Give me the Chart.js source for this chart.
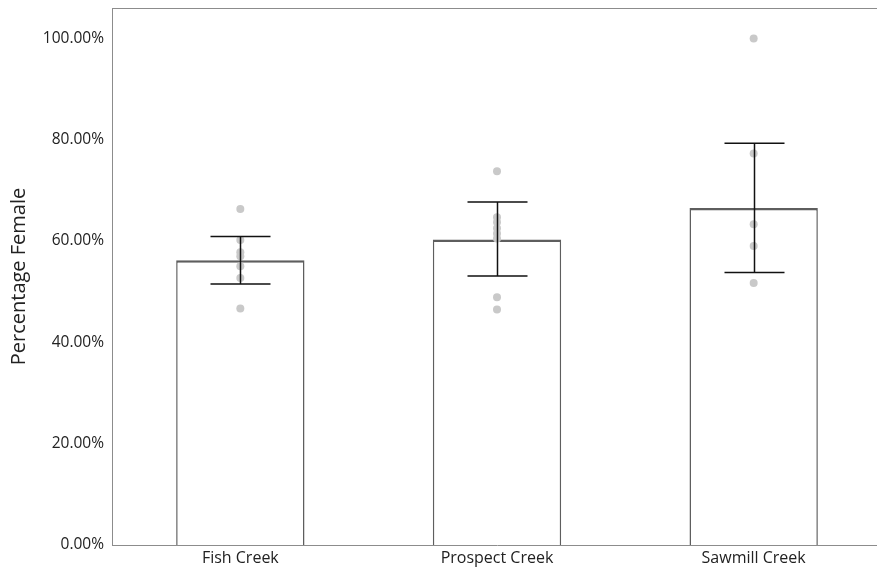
<!DOCTYPE html>
<html>
<head>
<meta charset="utf-8">
<script src="https://cdn.jsdelivr.net/npm/chart.js@4"></script>
<style>
  html, body { margin: 0; padding: 0; background: #fff; overflow: hidden; }
  #wrap { width: 887px; height: 569px; }
</style>
</head>
<body>
<div id="wrap"><canvas id="graph"></canvas></div>
<script>
var creeks = ['Fish Creek', 'Prospect Creek', 'Sawmill Creek'];
var means = [56.2, 60.3, 66.5];
var errLow = [51.5, 53.1, 53.8];
var errHigh = [60.9, 67.7, 79.3];

// individual site values
var fishPts = [66.3, 60.2, 57.8, 57.0, 55.0, 52.7, 46.7];
var prospectPts = [73.8, 64.7, 63.7, 62.5, 61.5, 60.5, 48.9, 46.5];
var sawmillPts = [100.0, 77.3, 63.3, 59.0, 51.7];

var tickValues = [0, 20, 40, 60, 80, 100];

function toPoints(name, vals) {
  return vals.map(function (v) { return { x: name, y: v }; });
}
var points = []
  .concat(toPoints(creeks[0], fishPts))
  .concat(toPoints(creeks[1], prospectPts))
  .concat(toPoints(creeks[2], sawmillPts));

// error bars + top frame line
var extras = {
  id: 'extras',
  afterDatasetsDraw: function (chart) {
    var c = chart.ctx, xs = chart.scales.x, ys = chart.scales.y;
    c.save();
    c.strokeStyle = '#111';
    c.lineWidth = 1.5;
    for (var i = 0; i < creeks.length; i++) {
      var x = Math.round(xs.getPixelForValue(i)) + 0.5;
      var t = ys.getPixelForValue(errHigh[i]);
      var b = ys.getPixelForValue(errLow[i]);
      c.beginPath();
      c.moveTo(x, t); c.lineTo(x, b);
      c.moveTo(x - 30, t); c.lineTo(x + 30, t);
      c.moveTo(x - 30, b); c.lineTo(x + 30, b);
      c.stroke();
    }
    var a = chart.chartArea;
    c.strokeStyle = '#8c8c8c';
    c.lineWidth = 1;
    c.beginPath();
    c.moveTo(a.left, a.top + 0.5); c.lineTo(a.right, a.top + 0.5);
    c.stroke();
    c.restore();
  }
};

var ctx = document.getElementById('graph').getContext('2d');
var chart = new Chart(ctx, {
  type: 'bar',
  data: {
    labels: creeks,
    datasets: [{
      type: 'scatter',
      data: points,
      backgroundColor: '#c9c9c9',
      borderWidth: 0,
      pointRadius: 4,
      order: 2
    }, {
      type: 'bar',
      data: means,
      backgroundColor: '#ffffff',
      borderColor: '#5e5e5e',
      borderWidth: { top: 2.5, left: 1.5, right: 1.5, bottom: 0 },
      borderSkipped: false,
      categoryPercentage: 1,
      barPercentage: 0.5,
      order: 3
    }]
  },
  plugins: [extras],
  options: {
    responsive: true,
    maintainAspectRatio: false,
    animation: false,
    layout: { padding: { top: 8, right: 5, left: 0, bottom: 0 } },
    plugins: { legend: { display: false }, tooltip: { enabled: false } },
    scales: {
      x: {
        type: 'category',
        offset: true,
        grid: { display: false, drawTicks: true, tickLength: 4, color: '#8c8c8c' },
        border: { display: true, color: '#8c8c8c' },
        ticks: { color: '#222', font: { family: 'Open Sans', size: 16 }, padding: 0 },
        afterFit: function (s) { s.height = 24; }
      },
      y: {
        min: 0,
        max: 106,
        afterBuildTicks: function (s) {
          s.ticks = tickValues.map(function (v) { return { value: v }; });
        },
        grid: { display: false, drawTicks: true, tickLength: 4, color: '#8c8c8c' },
        border: { display: true, color: '#8c8c8c' },
        ticks: {
          color: '#222',
          font: { family: 'Open Sans', size: 15.5 },
          padding: 4,
          callback: function (v) { return v.toFixed(2) + '%'; }
        },
        title: {
          display: true,
          text: 'Percentage Female',
          color: '#222',
          font: { family: 'Open Sans', size: 20 },
          padding: { top: 7, bottom: 2 }
        },
        afterFit: function (s) {
          s.width = 112;
          s.paddingTop = 0;
          s.paddingBottom = 0;
        }
      }
    }
  }
});
</script>
</body>
</html>
